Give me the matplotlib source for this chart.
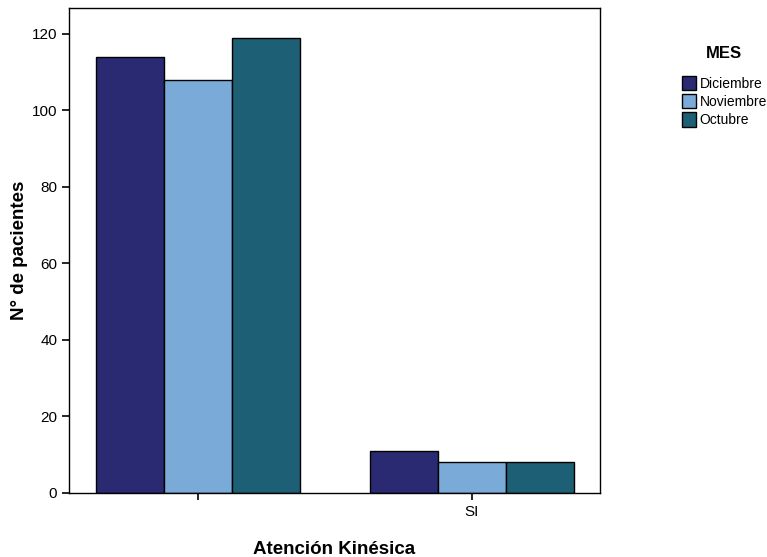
import numpy as np
import matplotlib
matplotlib.use("Agg")
import matplotlib.pyplot as plt

plt.rcParams['font.family'] = ['Liberation Sans', 'DejaVu Sans']

# datos
categorias = ["", "SI"]
meses = ["Diciembre", "Noviembre", "Octubre"]
diciembre = [114, 11]
noviembre = [108, 8]
octubre = [119, 8]
colores = ["#292a72", "#7aaad7", "#1d5f74"]

fig = plt.figure(figsize=(7.67, 5.57), dpi=100)
ax = fig.add_axes([0.09, 0.115, 0.692, 0.871])

x = np.arange(len(categorias))
w = 0.248
for i, (serie, c) in enumerate(zip([diciembre, noviembre, octubre], colores)):
    ax.bar(x + (i - 1) * w, serie, w, color=c, edgecolor="black", linewidth=1, label=meses[i])

ax.set_xlim(-0.471, 1.467)
ax.set_ylim(0, 126.8)
ax.set_yticks(range(0, 121, 20))
ax.set_xticks(x)
ax.set_xticklabels(categorias)
ax.tick_params(labelsize=11, length=5, width=1.2)
for s in ax.spines.values():
    s.set_linewidth(1)

ax.set_ylabel("N° de pacientes", fontsize=13.5, fontweight="bold", labelpad=3)
ax.set_xlabel("Atención Kinésica", fontsize=13.5, fontweight="bold", labelpad=16)

leg = fig.legend(loc="upper left", bbox_to_anchor=(0.882, 0.928), frameon=False,
                 title="MES", fontsize=10, handlelength=1.0, handleheight=1.2,
                 handletextpad=0.25, labelspacing=0.25, borderaxespad=0)
leg.get_title().set_fontweight("bold")
leg.get_title().set_fontsize(12)
leg._legend_box.sep = 11

fig.savefig("out.png", dpi=100)
